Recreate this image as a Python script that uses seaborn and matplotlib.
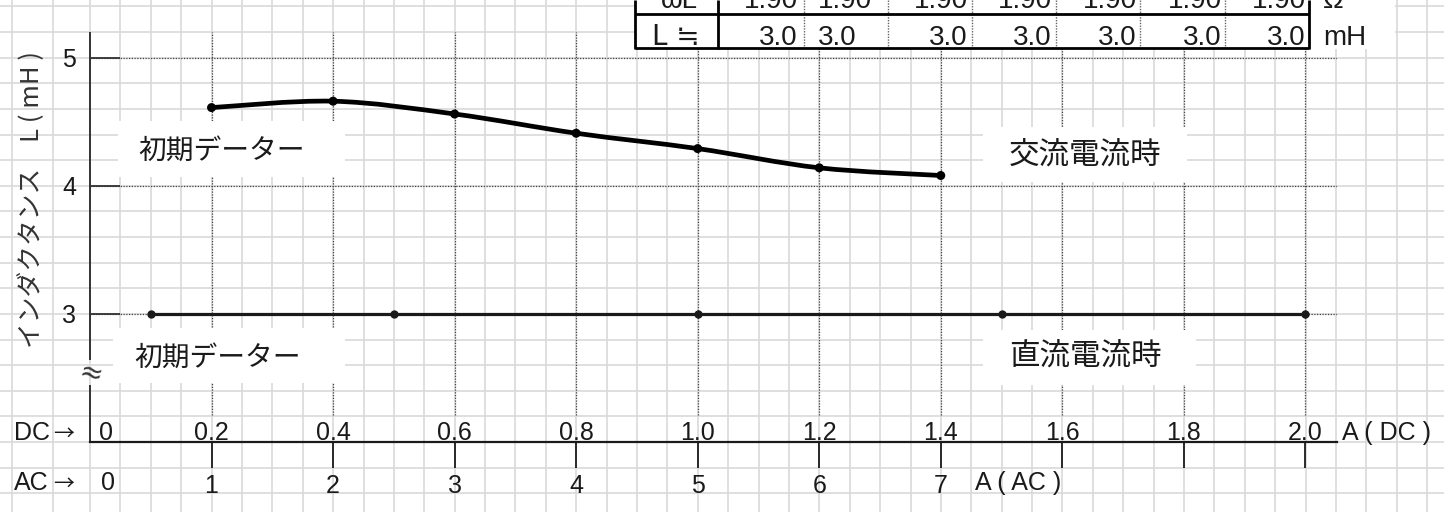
import numpy as np
import matplotlib
matplotlib.use('Agg')
import matplotlib.pyplot as plt
from matplotlib.path import Path
from matplotlib.patches import PathPatch, Rectangle
import seaborn as sns

# values
ac_current = [1, 2, 3, 4, 5, 6, 7]                             # A (AC)
ac_inductance = [4.61, 4.66, 4.56, 4.41, 4.29, 4.14, 4.08]     # mH
dc_current = [0.1, 0.5, 1.0, 1.5, 2.0]                         # A (DC)
dc_inductance = [3.0, 3.0, 3.0, 3.0, 3.0]                      # mH

dc_ticks = [0.2, 0.4, 0.6, 0.8, 1.0, 1.2, 1.4, 1.6, 1.8, 2.0]
dc_tick_labels = ['0.2', '0.4', '0.6', '0.8', '1.0', '1.2', '1.4', '1.6', '1.8', '2.0']
ac_tick_labels = ['1', '2', '3', '4', '5', '6', '7', '', '', '']
y_ticks = [3, 4, 5]

omega_L = ['1.90', '1.90', '1.90', '1.90', '1.90', '1.90', '1.90']
L_approx = ['3.0', '3.0', '3.0', '3.0', '3.0', '3.0', '3.0']

ac_to_dc = 0.2  # 1 A on the AC scale sits under 0.2 A on the DC scale

sns.set_theme(style='white')
plt.rcParams['font.family'] = ['Liberation Sans Narrow', 'Liberation Sans', 'Noto Sans CJK JP', 'DejaVu Sans']
jp = ['Noto Sans CJK JP', 'DejaVu Sans']
ink = '#1a1a1a'

W, H = 1444, 512
fig = plt.figure(figsize=(W / 100, H / 100), dpi=100)
fig.patch.set_facecolor('white')

# spreadsheet grid behind the chart (pixel coords)
bg = fig.add_axes([0, 0, 1, 1])
bg.set_xlim(0, W)
bg.set_ylim(H, 0)
bg.axis('off')
col_w, row_h = 30.39, 25.62
cols = [12, 53] + list(90 + col_w * np.arange(0, 45))
rows = 57.7 + row_h * np.arange(-3, 19)
bg.vlines([c for c in cols if c < W], 0, H, color='#d9d9d9', lw=1.2)
bg.hlines([r for r in rows if 0 <= r <= H], 0, W, color='#d9d9d9', lw=1.2)

# chart area
ax = fig.add_axes([90 / W, (H - 442) / H, (1337 - 90) / W, (442 - 32) / H])
ax.patch.set_alpha(0)
ax.set_xlim(0, 2.052)
ax.set_ylim(2.0, 5.2)

ax.grid(True, axis='y', linestyle=(0, (1, 1.2)), color='#444', lw=0.9)
ax.grid(False, axis='x')
ax.vlines(dc_ticks, 2.21, 5.2, linestyles=(0, (1, 1.2)), colors='#444', lw=0.9)

# DC: flat line with markers
sns.lineplot(x=dc_current, y=dc_inductance, ax=ax, color=ink, lw=2.3,
             marker='o', markersize=6, markeredgewidth=0, zorder=3)

# AC: smoothed curve through the measured points
ac_x = np.array(ac_current) * ac_to_dc
pts = np.column_stack([ac_x, ac_inductance])
verts, codes = [pts[0]], [Path.MOVETO]
n = len(pts)
for i in range(n - 1):
    p0, p1 = pts[max(i - 1, 0)], pts[i]
    p2, p3 = pts[i + 1], pts[min(i + 2, n - 1)]
    verts += [p1 + (p2 - p0) / 6, p2 - (p3 - p1) / 6, p2]
    codes += [Path.CURVE4] * 3
ax.add_patch(PathPatch(Path(verts, codes), fill=False, lw=3.4, edgecolor='black', zorder=3))
sns.scatterplot(x=ac_x, y=ac_inductance, ax=ax, color='black', s=42, edgecolor='none', zorder=4)

# axes
for s in ['top', 'right']:
    ax.spines[s].set_visible(False)
ax.spines['bottom'].set_color(ink)
ax.spines['bottom'].set_linewidth(1.6)
ax.spines['left'].set_color('#333')
ax.spines['left'].set_linewidth(1.4)
ax.spines['left'].set_bounds(2.0, 2.44)
ax.vlines(0, 2.64, 5.2, colors='#333', lw=1.4, clip_on=False)

ax.set_yticks(y_ticks, [str(v) for v in y_ticks])
ax.tick_params(axis='y', left=True, direction='in', length=21.5, width=1.3,
               color='#333', pad=10, labelsize=18, labelcolor=ink)
ax.set_xticks(dc_ticks, ac_tick_labels)
ax.tick_params(axis='x', bottom=True, direction='out', length=18.7, width=1.3,
               color=ink, pad=4, labelsize=18, labelcolor=ink)
for x, lbl in zip(dc_ticks, dc_tick_labels):
    ax.annotate(lbl, xy=(x, 2.0), xytext=(0, 1.5), textcoords='offset points',
                ha='center', va='baseline', fontsize=18, color=ink)
ax.set_xlabel('')
ax.set_ylabel('')

# overlay: boxes, labels, table (pixel coords)
top = fig.add_axes([0, 0, 1, 1])
top.set_xlim(0, W)
top.set_ylim(H, 0)
top.axis('off')
top.patch.set_alpha(0)

for (x0, y0, w, h) in [(118, 121, 227, 56), (113, 328, 232, 55),
                       (983, 127, 204, 55), (983, 330, 213, 55)]:
    top.add_patch(Rectangle((x0, y0), w, h, facecolor='white', edgecolor='none'))
top.text(222, 151, '初期データー', family=jp, fontsize=20, ha='center', va='center', color=ink)
top.text(218, 358, '初期データー', family=jp, fontsize=20, ha='center', va='center', color=ink)
top.text(1085, 155, '交流電流時', family=jp, fontsize=22, ha='center', va='center', color=ink)
top.text(1085, 357, '直流電流時', family=jp, fontsize=22, ha='center', va='center', color=ink)

top.text(32, 200, 'インダクタンス　L ( mH )', family=jp, fontsize=18.5, rotation=90,
         ha='center', va='center', color='#333')
top.text(90, 374, '≈', fontsize=20, rotation=-15, ha='center', va='center', color='#333',
         family=['DejaVu Sans'])

top.text(14, 440, 'DC', fontsize=18, ha='left', va='baseline', color=ink)
top.text(14, 490, 'AC', fontsize=18, ha='left', va='baseline', color=ink)
top.text(53, 434, '→', fontsize=15, family=jp, ha='left', va='center', color=ink)
top.text(53, 484, '→', fontsize=15, family=jp, ha='left', va='center', color=ink)
top.text(106, 440, '0', fontsize=18, ha='center', va='baseline', color=ink)
top.text(108, 490, '0', fontsize=18, ha='center', va='baseline', color=ink)
top.text(1342, 440, 'A ( DC )', fontsize=18, ha='left', va='baseline', color=ink)
top.text(975, 490, 'A ( AC )', fontsize=18, ha='left', va='baseline', color=ink)

# table at the top edge (its first row is cut by the picture's edge)
top.add_patch(Rectangle((635, 0), 760, 49, facecolor='white', edgecolor='none'))
dividers = [804, 888, 972, 1056, 1140, 1225]
top.vlines(dividers, 0, 48, colors='#666', linestyles=(0, (1, 1)), lw=1.0)
top.vlines([635, 718, 1309], 0, 48.5, colors='black', lw=2.0)
top.hlines([14, 48], 635, 1309, colors='black', lw=2.0)
anchors = [798, 818, 968, 1052, 1137, 1222, 1306]
aligns = ['right', 'left', 'right', 'right', 'right', 'right', 'right']
for xa, al, w_val, l_val in zip(anchors, aligns, omega_L, L_approx):
    top.text(xa, 8, w_val, fontsize=20, ha=al, va='baseline', color=ink)
    top.text(xa, 45, l_val, fontsize=20, ha=al, va='baseline', color=ink)
top.text(679, 8, 'ωL', fontsize=20, ha='center', va='baseline', color=ink)
top.text(676, 45, 'L ≒', fontsize=20, ha='center', va='baseline', color=ink,
         family=['Liberation Sans Narrow', 'DejaVu Sans'])
top.text(1323, 8, 'Ω', fontsize=20, ha='left', va='baseline', color=ink)
top.text(1323, 45, 'mH', fontsize=20, ha='left', va='baseline', color=ink)

fig.savefig('out.png', dpi=100)
